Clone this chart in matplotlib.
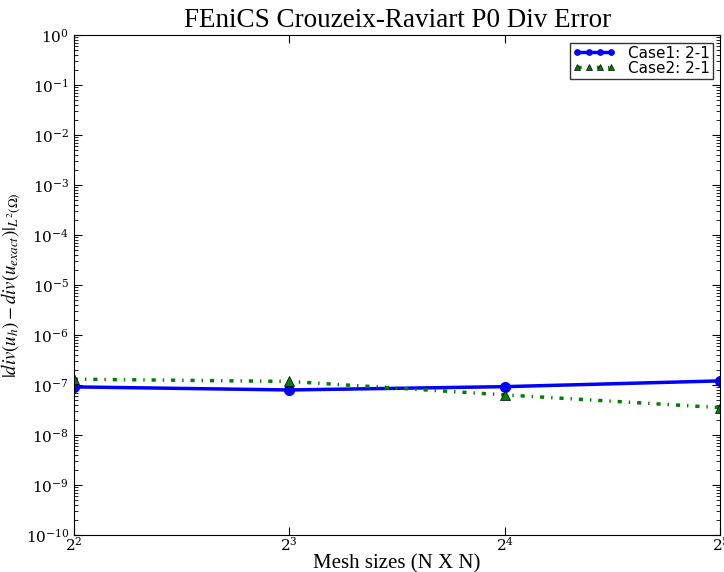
import numpy as np
import matplotlib.pyplot as plt
from matplotlib.ticker import LogLocator, NullLocator

plt.rcParams['font.family'] = ['Liberation Serif', 'DejaVu Serif']
plt.rcParams['mathtext.fontset'] = 'stix'
plt.rcParams['lines.scale_dashes'] = False

mesh_sizes = [4, 8, 16, 32]
case1_err = [9.1e-8, 7.9e-8, 9.2e-8, 1.2e-7]
case2_err = [1.3e-7, 1.17e-7, 6.3e-8, 3.5e-8]
labels = ['Case1: 2-1', 'Case2: 2-1']

fig = plt.figure(figsize=(7.24, 5.72), dpi=100)
ax = fig.add_axes([0.102, 0.065, 0.893, 0.874])

ax.plot(mesh_sizes, case1_err, color='blue', linestyle='-', linewidth=2.5,
        marker='o', markersize=7, label=labels[0])
ax.plot(mesh_sizes, case2_err, color='green', linestyle=(0, (3, 5, 1, 5)),
        linewidth=2.5, marker='^', markersize=7, markeredgecolor='black',
        markeredgewidth=0.5, label=labels[1])

ax.set_xscale('log', base=2)
ax.set_yscale('log')
ax.set_xlim(4, 32)
ax.set_ylim(1e-10, 1e0)
ax.set_xticks(mesh_sizes)
ax.xaxis.set_minor_locator(NullLocator())
ax.set_yticks([10.0 ** k for k in range(-10, 1)])
ax.yaxis.set_minor_locator(LogLocator(base=10, subs=np.arange(2, 10), numticks=200))
ax.tick_params(which='major', direction='in', top=True, right=True, length=6,
               labelsize=11)
ax.tick_params(which='minor', direction='in', left=True, right=True, length=3)
ax.tick_params(axis='x', pad=1)
for lab in ax.get_xticklabels() + ax.get_yticklabels():
    lab.set_fontfamily('DejaVu Serif')

ax.set_title('FEniCS Crouzeix-Raviart P0 Div Error', fontsize=19.5)
ax.set_xlabel('Mesh sizes (N X N)', fontsize=15, labelpad=0)
ax.set_ylabel(r'$|div(u_h) - div(u_{exact})|_{L^2(\Omega)}$', fontsize=13.5,
              labelpad=2)

leg = ax.legend(loc='upper right', numpoints=4, fancybox=False,
                prop={'family': 'DejaVu Sans', 'size': 11},
                handlelength=2.8, borderpad=0.2, labelspacing=0.0,
                markerscale=0.55)
leg.get_frame().set_edgecolor('black')

plt.savefig('out.png')
